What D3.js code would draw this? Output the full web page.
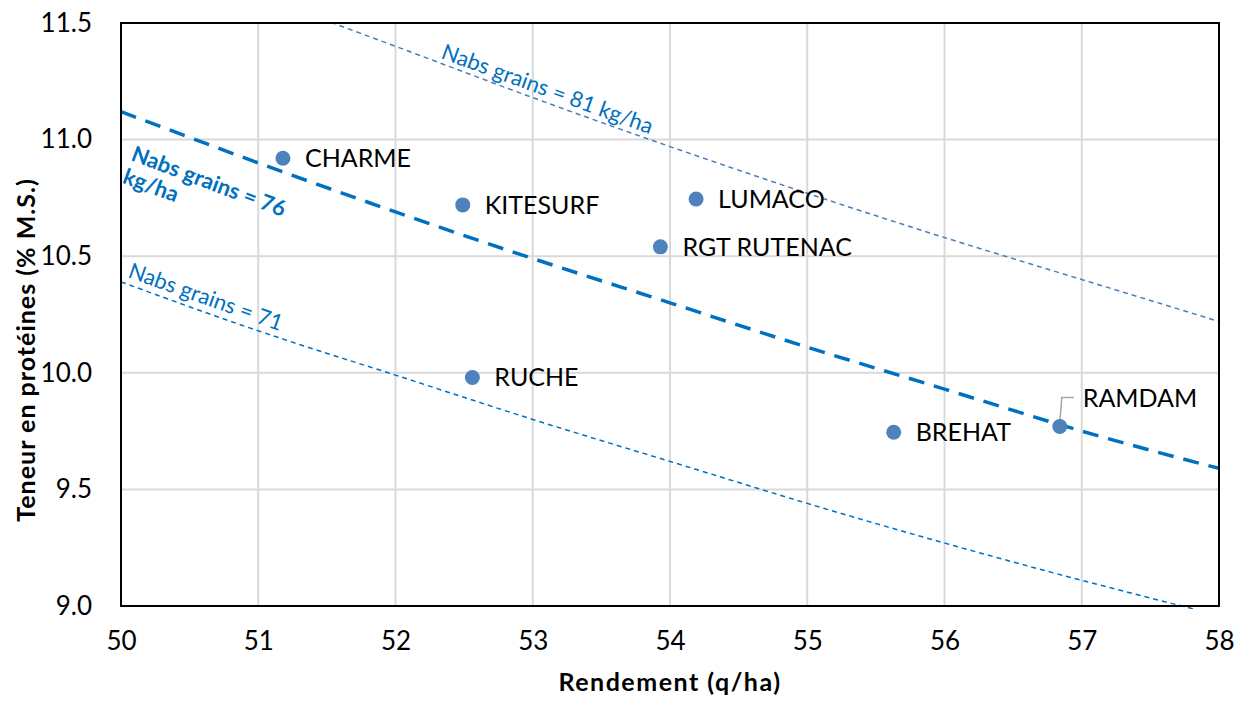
<!DOCTYPE html>
<html><head><meta charset="utf-8">
<script src="https://cdn.jsdelivr.net/npm/d3@7"></script>
<style>body{margin:0;background:#fff;} text{font-family:Lato,"Open Sans",sans-serif;}</style>
</head><body>
<svg id="chart" width="1237" height="702"></svg>
<script>
// ---- data ----
const varieties = ["CHARME","KITESURF","LUMACO","RGT RUTENAC","RUCHE","BREHAT","RAMDAM"];
const rendement = [51.18, 52.49, 54.19, 53.93, 52.56, 55.63, 56.84];
const proteines = [10.92, 10.72, 10.745, 10.54, 9.98, 9.745, 9.77];
const xTicks = [50,51,52,53,54,55,56,57,58];
const yTicks = [9.0,9.5,10.0,10.5,11.0,11.5];
const isoX   = [50,51,52,53,54,55,56,57,58];
const iso71  = [10.39,10.18,9.99,9.80,9.62,9.44,9.27,9.11,8.96];
const iso76  = [11.12,10.90,10.69,10.49,10.30,10.11,9.93,9.75,9.59];
const iso81  = [11.85,11.62,11.40,11.18,10.97,10.77,10.58,10.40,10.22];

const svg = d3.select("#chart");
const m = {l:121, r:1219, t:23, b:606};
const x = d3.scaleLinear().domain([50,58]).range([m.l,m.r]);
const y = d3.scaleLinear().domain([9,11.5]).range([m.b,m.t]);

// grid
svg.append("g").selectAll("line").data(xTicks.slice(1,-1)).join("line")
  .attr("x1",d=>x(d)).attr("x2",d=>x(d)).attr("y1",m.t).attr("y2",m.b)
  .attr("stroke","#d9d9d9").attr("stroke-width",2);
svg.append("g").selectAll("line").data(yTicks.slice(1,-1)).join("line")
  .attr("y1",d=>y(d)).attr("y2",d=>y(d)).attr("x1",m.l).attr("x2",m.r)
  .attr("stroke","#d9d9d9").attr("stroke-width",2);

// axes labels via d3 axes
const xa = svg.append("g").attr("transform",`translate(0,${m.b})`)
  .call(d3.axisBottom(x).tickValues(xTicks).tickSize(0).tickPadding(26).tickFormat(d3.format("d")));
const ya = svg.append("g").attr("transform",`translate(${m.l},0)`)
  .call(d3.axisLeft(y).tickValues(yTicks).tickSize(0).tickPadding(29).tickFormat(d3.format(".1f")));
[xa,ya].forEach(a=>{a.select(".domain").remove();
  a.selectAll("text").attr("font-family","Lato, sans-serif").attr("font-size",26).attr("fill","#000");});

// clip
svg.append("clipPath").attr("id","clip").append("rect")
  .attr("x",m.l).attr("y",m.t).attr("width",m.r-m.l).attr("height",m.b-m.t+3);

const line = d3.line().x((d,i)=>x(isoX[i])).y(d=>y(d)).curve(d3.curveNatural);
const g = svg.append("g").attr("clip-path","url(#clip)");
g.append("path").attr("d",line(iso81)).attr("fill","none").attr("stroke","#4a7ebb")
  .attr("stroke-width",1.5).attr("stroke-dasharray","5,4");
g.append("path").attr("d",line(iso71)).attr("fill","none").attr("stroke","#0070c0")
  .attr("stroke-width",1.5).attr("stroke-dasharray","5,4");
g.append("path").attr("d",line(iso76)).attr("fill","none").attr("stroke","#0070c0")
  .attr("stroke-width",3.5).attr("stroke-dasharray","16,10");

// frame
svg.append("rect").attr("x",m.l).attr("y",m.t).attr("width",m.r-m.l).attr("height",m.b-m.t)
  .attr("fill","none").attr("stroke","#000").attr("stroke-width",2);

// iso labels
svg.append("text").attr("transform","translate(440,58) rotate(20)")
  .attr("font-size",22).attr("fill","#0070c0").text("Nabs grains = 81 kg/ha");
svg.append("text").attr("transform","translate(127,277) rotate(19.5)")
  .attr("font-size",22).attr("fill","#0070c0").text("Nabs grains = 71");
const t76 = svg.append("text").attr("transform","translate(130,160) rotate(20.5)")
  .attr("font-size",22).attr("font-weight","bold").attr("fill","#0070c0");
t76.append("tspan").attr("x",0).attr("y",0).text("Nabs grains = 76");
t76.append("tspan").attr("x",0).attr("y",24).text("kg/ha");

// RAMDAM leader
const ri = varieties.indexOf("RAMDAM");
svg.append("polyline")
  .attr("points",`${x(rendement[ri])},${y(proteines[ri])-4} ${x(rendement[ri])+2},${y(proteines[ri])-29} ${x(rendement[ri])+14},${y(proteines[ri])-29}`)
  .attr("fill","none").attr("stroke","#a6a6a6").attr("stroke-width",1.5);

// points
svg.append("g").selectAll("circle").data(varieties).join("circle")
  .attr("cx",(d,i)=>x(rendement[i])).attr("cy",(d,i)=>y(proteines[i])).attr("r",7.5)
  .attr("fill","#4f81bd");

// point labels
svg.append("g").selectAll("text").data(varieties).join("text")
  .attr("x",(d,i)=>x(rendement[i]) + (d==="RAMDAM"?23:22))
  .attr("y",(d,i)=>y(proteines[i]) + (d==="RAMDAM"?-19:9))
  .attr("font-size",25).attr("fill","#000").text(d=>d);

// axis titles
svg.append("text").attr("x",670).attr("y",691).attr("text-anchor","middle")
  .attr("font-size",25).attr("font-weight","bold").attr("letter-spacing",1.5).text("Rendement (q/ha)");
svg.append("text").attr("transform","translate(35,350) rotate(-90)").attr("text-anchor","middle")
  .attr("font-size",25).attr("font-weight","bold").attr("letter-spacing",1).text("Teneur en protéines (% M.S.)");
</script>
</body></html>
